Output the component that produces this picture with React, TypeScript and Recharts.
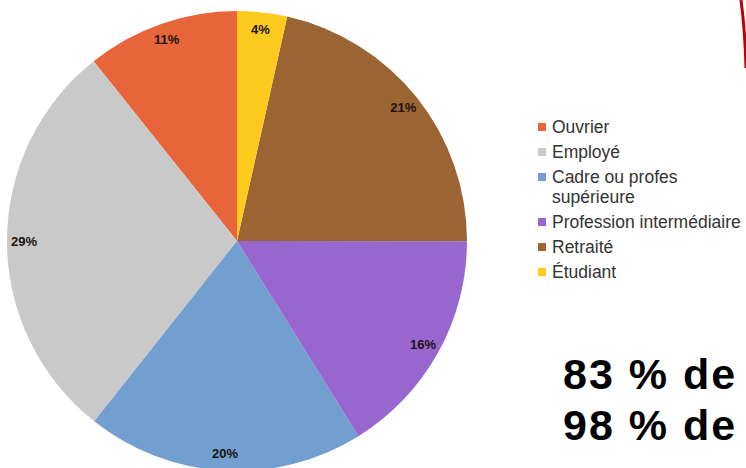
import React from 'react';
import { PieChart, Pie, Cell, Legend } from 'recharts';

// Categories, in legend order (counter-clockwise from 12 o'clock)
const categories = [
    'Ouvrier',
    'Employé',
    'Cadre ou profes supérieure',
    'Profession intermédiaire',
    'Retraité',
    'Étudiant',
];
// slice sizes
const shares = [10.7, 28.6, 19.5, 16.1, 21.5, 3.5];
// percentages printed on the slices
const printed = [11, 29, 20, 16, 21, 4];
const colors = ['#E8643A', '#C9C9C9', '#729FCF', '#9767CF', '#9B6433', '#FCCB1E'];

const headlines = ['83 % de', '98 % de'];

const data = categories.map((name, i) => ({ name, value: shares[i], printed: printed[i] }));

const RAD = Math.PI / 180;

const renderLabel = (props: any) => {
    const { cx, cy, midAngle, index } = props;
    const r = 213;
    const x = cx + r * Math.cos(-midAngle * RAD);
    const y = cy + r * Math.sin(-midAngle * RAD);
    return (
        <text
            x={x}
            y={y}
            textAnchor="middle"
            dominantBaseline="central"
            fill="#1c1410"
            fontSize={13}
            fontWeight="bold"
            fontFamily="'Liberation Sans', Arial, sans-serif"
        >
            {printed[index]}%
        </text>
    );
};

// legend drawn straight from the category list so the order is kept
const renderLegend = () => (
    <div style={{ fontFamily: "'Liberation Sans', Arial, sans-serif", fontSize: 17.5, color: '#333' }}>
        {categories.map((name, i) => {
            const long = name.length > 24;
            return (
                <div key={name} style={{ display: 'flex', alignItems: 'flex-start', marginBottom: 5, lineHeight: '20px' }}>
                    <span
                        style={{
                            display: 'inline-block',
                            width: 8,
                            height: 8,
                            background: colors[i],
                            marginTop: 6,
                            marginRight: 6,
                            flexShrink: 0,
                        }}
                    />
                    <span style={{ width: long ? 140 : 240, whiteSpace: long ? 'normal' : 'nowrap' }}>{name}</span>
                </div>
            );
        })}
    </div>
);

export default function App() {
    return (
        <div
            style={{
                position: 'fixed',
                left: 0,
                top: 0,
                width: 746,
                height: 468,
                background: '#fff',
                overflow: 'hidden',
            }}
        >
            <PieChart width={746} height={468} margin={{ top: 0, right: 0, bottom: 0, left: 0 }}>
                <Pie
                    data={data}
                    dataKey="value"
                    nameKey="name"
                    cx={237}
                    cy={241}
                    outerRadius={230}
                    startAngle={90}
                    endAngle={450}
                    stroke="none"
                    label={renderLabel}
                    labelLine={false}
                    isAnimationActive={false}
                >
                    {data.map((d, i) => (
                        <Cell key={d.name} fill={colors[i]} />
                    ))}
                </Pie>
                <Legend
                    layout="vertical"
                    content={renderLegend}
                    wrapperStyle={{ position: 'absolute', left: 538, top: 117, width: 240 }}
                />
            </PieChart>

            {/* big headline text on the right */}
            {headlines.map((t, i) => (
                <div
                    key={t}
                    style={{
                        position: 'absolute',
                        left: 563,
                        top: 349 + i * 51,
                        fontFamily: "'Liberation Sans', Arial, sans-serif",
                        fontWeight: 'bold',
                        fontSize: 43,
                        letterSpacing: 2,
                        lineHeight: '50px',
                        whiteSpace: 'nowrap',
                        color: '#000',
                    }}
                >
                    {t}
                </div>
            ))}

            {/* edge of a red shape peeking in at the top right */}
            <svg width={746} height={468} style={{ position: 'absolute', left: 0, top: 0, pointerEvents: 'none' }}>
                <path d="M 741 0 Q 745 30 746 68" stroke="#C00000" strokeWidth={3} fill="none" />
            </svg>
        </div>
    );
}
